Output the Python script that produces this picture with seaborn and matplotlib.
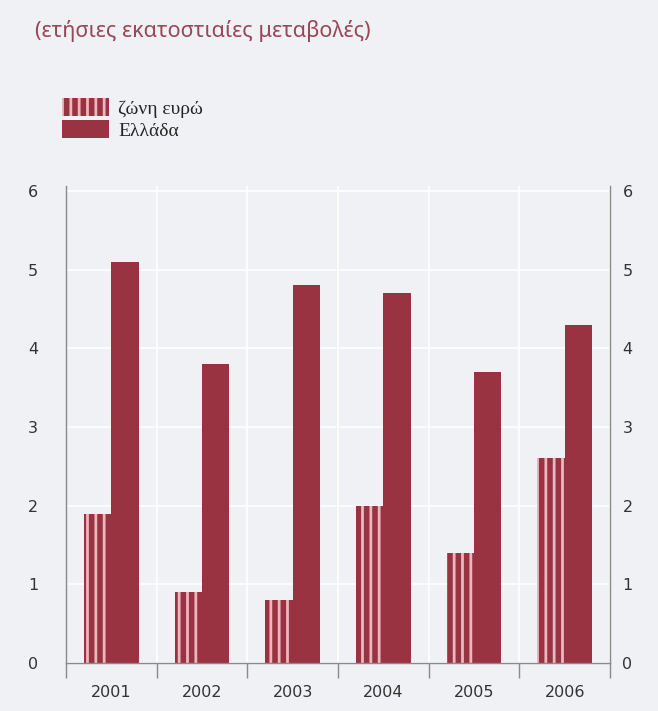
import matplotlib
matplotlib.use("Agg")
import matplotlib.pyplot as plt
import seaborn as sns
import pandas as pd
from matplotlib.patches import Patch
from matplotlib.ticker import FixedLocator

years = ["2001", "2002", "2003", "2004", "2005", "2006"]
euro_area = [1.9, 0.9, 0.8, 2.0, 1.4, 2.6]
greece = [5.1, 3.8, 4.8, 4.7, 3.7, 4.3]
series_names = ["ζώνη ευρώ", "Ελλάδα"]
title_text = "(ετήσιες εκατοστιαίες μεταβολές)"
y_ticks = [0, 1, 2, 3, 4, 5, 6]

BG = "#eff1f4"
RED = "#993342"
PINK = "#eab7bf"
GRAY = "#8a8a8a"
TXT = "#333333"

df = pd.DataFrame({
    "year": years * 2,
    "value": euro_area + greece,
    "series": [series_names[0]] * len(years) + [series_names[1]] * len(years),
})

sns.set_theme(style="white")
plt.rcParams["hatch.linewidth"] = 2.0
plt.rcParams["font.family"] = ["DejaVu Sans"]

fig = plt.figure(figsize=(6.58, 7.11), dpi=100, facecolor=BG)
ax = fig.add_axes([0.1003, 0.0675, 0.8267, 0.6705])
ax.set_facecolor(BG)

sns.barplot(data=df, x="year", y="value", hue="series", palette=[RED, RED],
            width=0.6, saturation=1, ax=ax, legend=False, linewidth=0)

n = len(years)
for p in ax.patches[:n]:
    p.set_hatch("||")
    p.set_edgecolor(PINK)
    p.set_linewidth(0)

ax.set_xlim(-0.5, n - 0.5)
ax.set_ylim(0, 6.06)
ax.set_yticks(y_ticks)
ax.set_xlabel("")
ax.set_ylabel("")

# gridlines
ax.set_axisbelow(True)
ax.yaxis.grid(True, color="white", linewidth=1.2)
ax.xaxis.set_minor_locator(FixedLocator([i - 0.5 for i in range(n + 1)]))
ax.xaxis.grid(True, which="minor", color="white", linewidth=1.2)
ax.xaxis.grid(False, which="major")

ax.spines["top"].set_visible(False)
for s in ["left", "right", "bottom"]:
    ax.spines[s].set_color(GRAY)
    ax.spines[s].set_linewidth(1.0)

ax.tick_params(axis="x", which="major", bottom=True, length=0, pad=16,
               labelsize=11.5, labelcolor=TXT)
ax.tick_params(axis="x", which="minor", bottom=True, length=11, width=1,
               color=GRAY, direction="out")
ax.tick_params(axis="y", which="major", left=True, length=0, pad=20,
               labelsize=11.5, labelcolor=TXT)

# right-hand labels
ax2 = ax.twinx()
ax2.set_ylim(ax.get_ylim())
ax2.set_yticks(y_ticks)
ax2.tick_params(axis="y", right=True, length=0, pad=9, labelsize=11.5, labelcolor=TXT)
for s in ax2.spines.values():
    s.set_visible(False)
ax2.grid(False)

fig.text(0.053, 0.956, title_text, color="#9a4656", fontsize=15.5,
         family=["Noto Sans", "DejaVu Sans"], va="center", ha="left")

handles = [Patch(facecolor=RED, edgecolor=PINK, linewidth=0, hatch="||"),
           Patch(facecolor=RED, edgecolor=RED, linewidth=0)]
fig.legend(handles, series_names, loc="upper left", bbox_to_anchor=(0.094, 0.862),
           frameon=False, prop=dict(family=["Liberation Serif", "DejaVu Serif"], size=14),
           handlelength=2.45, handleheight=1.05, handletextpad=0.45, labelspacing=0.12,
           borderpad=0, borderaxespad=0)

fig.savefig("out.png", dpi=100, facecolor=BG)
